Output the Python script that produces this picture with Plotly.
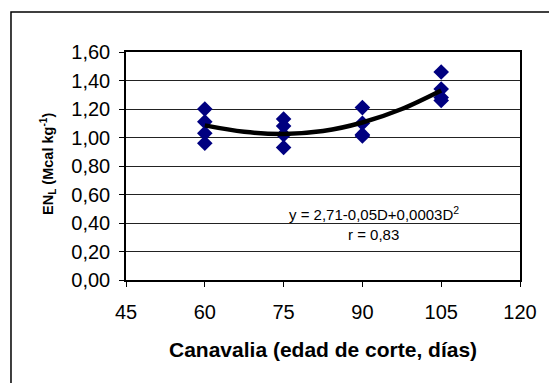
import plotly.graph_objects as go

# Data
dias_60 = [1.20, 1.11, 1.03, 0.96]
dias_75 = [1.13, 1.08, 1.02, 0.93]
dias_90 = [1.21, 1.10, 1.02, 1.01]
dias_105 = [1.46, 1.34, 1.28, 1.26]
ages = [60, 75, 90, 105]

trend_x = [60, 67.5, 75, 82.5, 90, 97.5, 105]
trend_y = [1.085, 1.04, 1.025, 1.045, 1.105, 1.20, 1.33]

x_ticks = [45, 60, 75, 90, 105, 120]
y_ticks = [0.0, 0.2, 0.4, 0.6, 0.8, 1.0, 1.2, 1.4, 1.6]
y_ticklabels = ["0,00", "0,20", "0,40", "0,60", "0,80", "1,00", "1,20", "1,40", "1,60"]

xs, ys = [], []
for a, vals in zip(ages, [dias_60, dias_75, dias_90, dias_105]):
    for v in vals:
        xs.append(a)
        ys.append(v)

fig = go.Figure()
fig.add_trace(go.Scatter(
    x=xs, y=ys, mode="markers",
    marker=dict(symbol="diamond", size=12, color="#000080", line=dict(width=0)),
    showlegend=False))
fig.add_trace(go.Scatter(
    x=trend_x, y=trend_y, mode="lines", line=dict(color="black", width=4.5, shape="spline"),
    showlegend=False, hoverinfo="skip"))

fig.update_layout(
    width=549, height=383,
    margin=dict(l=126, r=29, t=52, b=103),
    paper_bgcolor="white", plot_bgcolor="white",
    font=dict(family="Liberation Sans, Arial, sans-serif", color="black"),
    xaxis=dict(range=[45, 120], tickvals=x_ticks, ticktext=[str(t) for t in x_ticks],
               showgrid=False, zeroline=False, showline=True, linecolor="black", linewidth=1.5,
               mirror=True, ticks="outside", ticklen=5, tickcolor="black",
               tickfont=dict(size=20), ticklabelstandoff=8),
    yaxis=dict(range=[0, 1.6], tickvals=y_ticks, ticktext=y_ticklabels,
               showgrid=True, gridcolor="#222222", gridwidth=1, zeroline=False,
               showline=True, linecolor="black", linewidth=1.5, mirror=True,
               ticks="outside", ticklen=5, tickcolor="black",
               tickfont=dict(size=20), ticklabelstandoff=5),
    shapes=[dict(type="rect", xref="paper", yref="paper",
                 x0=-0.2919, x1=1.3, y0=-0.7, y1=1.1754,
                 line=dict(color="black", width=1.5), fillcolor="rgba(0,0,0,0)", layer="below")],
    annotations=[
        dict(text="<b>Canavalia (edad de corte, días)</b>", xref="paper", yref="paper",
             x=0.5, y=(280 - 349) / 228, showarrow=False, font=dict(size=21),
             xanchor="center", yanchor="middle"),
        dict(text="<b>EN<sub>L</sub> (Mcal kg<sup>-1</sup>)</b>", xref="paper", yref="paper",
             x=(48 - 126) / 394, y=(280 - 164) / 228, showarrow=False, textangle=-90,
             font=dict(size=14.5), xanchor="center", yanchor="middle"),
        dict(text="y = 2,71-0,05D+0,0003D<sup>2</sup>", xref="paper", yref="paper",
             x=(374 - 126) / 394, y=(280 - 213) / 228, showarrow=False, font=dict(size=15),
             xanchor="center", yanchor="middle"),
        dict(text="r = 0,83", xref="paper", yref="paper",
             x=(373 - 126) / 394, y=(280 - 234) / 228, showarrow=False, font=dict(size=15),
             xanchor="center", yanchor="middle"),
    ],
)

fig.write_html("out.html", config={"displayModeBar": False},
               post_script="document.body.style.margin='0px';document.body.style.overflow='hidden';")
